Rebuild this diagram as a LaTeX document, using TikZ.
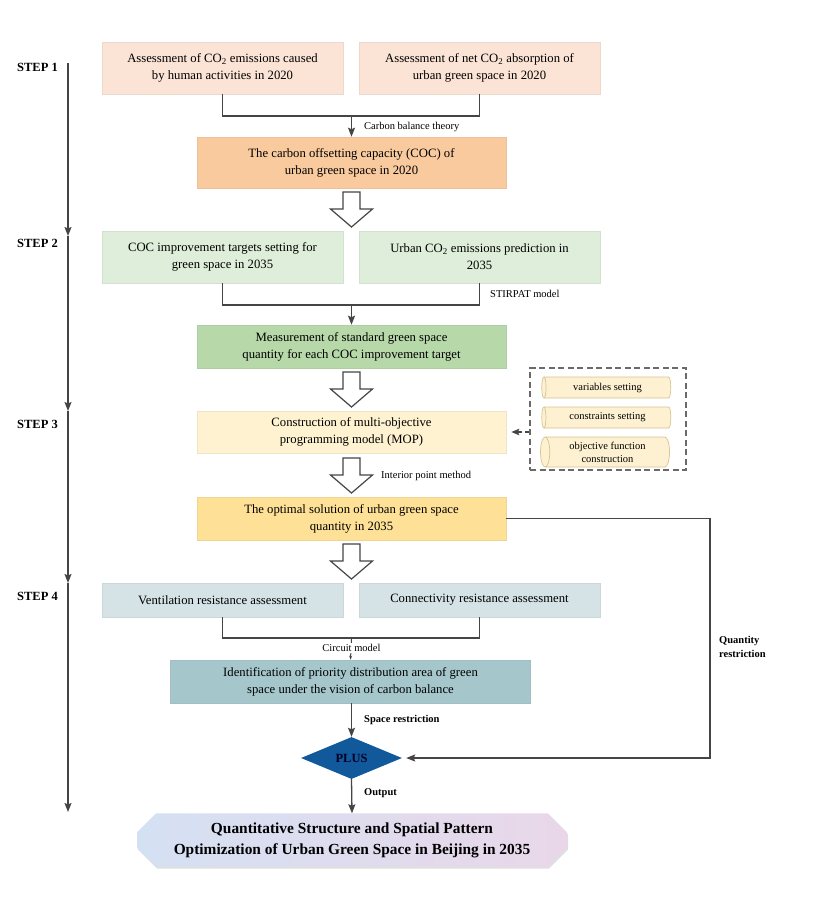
\documentclass[tikz,border=0pt]{standalone}
\usepackage{fontspec}
\setmainfont{Liberation Serif}
\usetikzlibrary{arrows.meta,shapes.geometric,shapes.misc,shadows}
\definecolor{lnc}{HTML}{454545}
\definecolor{cA}{HTML}{FBE4D6}
\definecolor{cB}{HTML}{F8CA9E}
\definecolor{cC}{HTML}{DEEEDA}
\definecolor{cD}{HTML}{B7D8A8}
\definecolor{cE}{HTML}{FEF2D0}
\definecolor{cF}{HTML}{FEE196}
\definecolor{cG}{HTML}{D5E3E7}
\definecolor{cH}{HTML}{A5C7CC}
\definecolor{cP}{HTML}{11599A}
\definecolor{cyl}{HTML}{FDF1D2}
\definecolor{cylb}{HTML}{D8C391}
\definecolor{fL}{HTML}{D4E1F3}
\definecolor{fR}{HTML}{E9D7E9}
\newcommand{\hollowarrow}[2]{%
 \draw[blk] (#1-8.5,#2) -- (#1+8.5,#2) -- (#1+8.5,#2+17) -- (#1+21,#2+17) -- (#1,#2+35) -- (#1-21,#2+17) -- (#1-8.5,#2+17) -- cycle;}
\begin{document}
\begin{tikzpicture}[x=1pt,y=-1pt,
  every node/.style={font=\fontsize{12.7}{17}\selectfont, align=center, inner sep=0pt},
  box/.style={rectangle, minimum width=241pt, minimum height=52pt, draw=#1!88!gray, line width=0.6pt, fill=#1},
  wbox/.style={box=#1, minimum width=309pt},
  line/.style={draw=lnc, line width=1.3pt},
  arr/.style={line, -{Stealth[length=9pt,width=7pt,inset=1.5pt]}},
  blk/.style={draw=lnc, line width=1.2pt, fill=white, line join=miter},
  lab/.style={font=\fontsize{10.5}{13}\selectfont},
  blab/.style={font=\fontsize{10.5}{14}\selectfont\bfseries},
  steplab/.style={font=\fontsize{12.5}{15}\selectfont\bfseries, anchor=west},
  cylnode/.style={cylinder, shape border rotate=180, aspect=0.45, draw=cylb, line width=0.7pt, fill=cyl, minimum width=21pt, minimum height=129pt, font=\fontsize{10.5}{13}\selectfont}
]
\useasboundingbox (0,0) rectangle (814,900);

% step labels and timeline
\node[steplab] (st1) at (17,67) {STEP 1};
\node[steplab] (st2) at (17,243) {STEP 2};
\node[steplab] (st3) at (17,424) {STEP 3};
\node[steplab] (st4) at (17,596) {STEP 4};
\coordinate (t0) at (68,63);
\coordinate (t1) at (68,236);
\coordinate (t2) at (68,411);
\coordinate (t3) at (68,583);
\coordinate (t4) at (68,812);
\draw[arr] (t0) -- (t1);
\draw[arr] (t1) -- (t2);
\draw[arr] (t2) -- (t3);
\draw[arr] (t3) -- (t4);

% step 1
\node[box=cA] (A1) at (222.5,68) {Assessment of CO\textsubscript{2} emissions caused\\by human activities in 2020};
\node[box=cA] (A2) at (479.5,68) {Assessment of net CO\textsubscript{2} absorption of\\urban green space in 2020};
\node[wbox=cB, minimum height=51pt] (B) at (351.5,162.5) {The carbon offsetting capacity (COC) of\\urban green space in 2020};
\coordinate (m1) at (351.5,116);
\draw[line] (A1.south) |- (m1) -| (A2.south);
\draw[arr] (m1) -- (B.north);
\node[lab, anchor=west] (l1) at (364,127) {Carbon balance theory};

\hollowarrow{351.5}{192}

% step 2
\node[box=cC] (C1) at (222.5,257) {COC improvement targets setting for\\green space in 2035};
\node[box=cC] (C2) at (479.5,257) {Urban CO\textsubscript{2} emissions prediction in\\2035};
\node[wbox=cD, minimum height=43pt] (D) at (351.5,346.5) {Measurement of standard green space\\quantity for each COC improvement target};
\coordinate (m2) at (351.5,305);
\draw[line] (C1.south) |- (m2) -| (C2.south);
\draw[arr] (m2) -- (D.north);
\node[lab, anchor=west] (l2) at (490,294) {STIRPAT model};

\hollowarrow{351.5}{372}

% step 3
\node[wbox=cE, minimum height=42pt] (E) at (351.5,432) {Construction of multi-objective\\programming model (MOP)};
\node[draw=lnc!80, line width=1.2pt, dash pattern=on 6pt off 3.5pt, minimum width=156pt, minimum height=102pt] (mop) at (608,419) {};
\node[cylnode] (cy1) at (607.5,387.5) {variables setting};
\node[cylnode] (cy2) at (607.5,417.5) {constraints setting};
\node[cylnode, minimum width=30pt] (cy3) at (607.5,452) {objective function\\construction};
\draw[line, dash pattern=on 4pt off 3pt, -{Stealth[length=8pt,width=6.5pt,inset=1.5pt]}, shorten >=5pt] (mop.west |- E) -- (E.east);

\hollowarrow{351.5}{458}
\node[lab, anchor=west] (l3) at (381,476) {Interior point method};

\node[wbox=cF, minimum height=43pt] (F) at (351.5,518.5) {The optimal solution of urban green space\\quantity in 2035};

\hollowarrow{351.5}{544}

% step 4
\node[box=cG, minimum height=34pt] (G1) at (222.5,600) {Ventilation resistance assessment};
\node[box=cG, minimum height=34pt] (G2) at (479.5,600) {Connectivity resistance assessment};
\node[box=cH, minimum width=360pt, minimum height=43pt] (H) at (350.5,681.5) {Identification of priority distribution area of green\\space under the vision of carbon balance};
\coordinate (m3) at (351.5,638);
\draw[line] (G1.south) |- (m3) -| (G2.south);
\draw[line, line width=1pt, -{Stealth[length=4pt,width=3pt]}] (m3) -- (H.north);
\node[lab, fill=white, inner sep=1pt] (l4) at (351.5,648) {Circuit model};

\node[diamond, fill=cP, minimum width=101pt, minimum height=42pt, aspect=2.4, font=\fontsize{12.5}{15}\selectfont\bfseries, text=black!85!blue] (P) at (351.5,758) {PLUS};
\draw[arr] (H.south -| P.north) -- (P.north);
\node[blab, anchor=west] (l5) at (364,720) {Space restriction};

\coordinate (q1) at (710,518.5);
\draw[arr, shorten >=4pt] (F.east) -- (q1) |- (P.east);
\node[blab, anchor=west, align=left] (l6) at (719,647) {Quantity\\restriction};

\node[chamfered rectangle, chamfered rectangle xsep=10pt, chamfered rectangle ysep=9pt, minimum width=430pt, minimum height=52pt, left color=fL, right color=fR, draw=none, drop shadow={shadow xshift=1pt, shadow yshift=-2pt, opacity=0.25}, font=\fontsize{15.4}{21}\selectfont\bfseries] (out) at (352,840) {Quantitative Structure and Spatial Pattern\\Optimization of Urban Green Space in Beijing in 2035};
\draw[arr] (P.south) -- (out.north);
\node[blab, anchor=west] (l7) at (364,793) {Output};
\end{tikzpicture}
\end{document}
